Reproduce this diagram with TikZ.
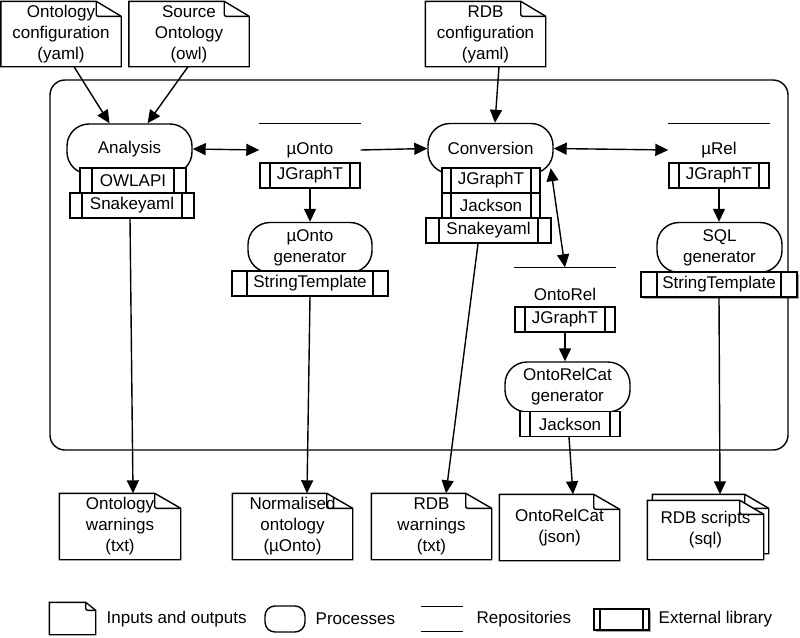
\documentclass[tikz,border=0pt]{standalone}
\usepackage{fontspec}
\setmainfont{Liberation Sans}
\usetikzlibrary{arrows.meta,shadows,backgrounds}
\newcommand\docout[3]{%
  \filldraw[ln, fill=white] (#1.north west) -- ([xshift=-#2]#1.north east) -- ([yshift=-#3]#1.north east) -- (#1.south east) -- (#1.south west) -- cycle;
  \draw[ln, rounded corners=2pt] ([xshift=-#2]#1.north east) |- ([yshift=-#3]#1.north east);}
\begin{document}
\begin{tikzpicture}[x=1pt,y=-1pt,
  ln/.style={line width=1.4pt},
  txt/.style={font=\fontsize{17}{21}\selectfont, align=center, inner sep=0pt, ln},
  doc/.style={txt, minimum width=119pt, minimum height=64pt},
  proc/.style={txt, draw, rounded corners=22pt, minimum width=125pt, minimum height=50pt},
  repo/.style={txt, minimum width=100pt, minimum height=52pt},
  lib/.style args={#1/#2}{txt, draw, fill=white, minimum width=#1, minimum height=25pt,
    path picture={\draw[ln] ([xshift=#2]path picture bounding box.north west) -- ([xshift=#2]path picture bounding box.south west);
                  \draw[ln] ([xshift=-#2]path picture bounding box.north east) -- ([xshift=-#2]path picture bounding box.south east);}},
  libshadow/.style={drop shadow={shadow xshift=1.5pt, shadow yshift=-1.5pt, opacity=0.35, fill=black}},
  arr/.style={ln, -{Triangle[length=13pt,width=12pt]}},
  darr/.style={ln, {Triangle[length=13pt,width=12pt]}-{Triangle[length=13pt,width=12pt]}}]
\useasboundingbox (0,0) rectangle (800,637);

% container
\node[draw, ln, rounded corners=15pt, minimum width=738pt, minimum height=370pt, inner sep=0pt] (frame) at (419,265) {};

% top documents
\node[doc] (cfg) at (61,34) {Ontology\\configuration\\(yaml)};
\node[doc] (src) at (189,34) {Source\\Ontology\\(owl)};
\node[doc] (rdbcfg) at (485.5,34) {RDB\\configuration\\(yaml)};

% analysis
\node[proc] (ana) at (129.5,149) {Analysis};
\node[lib=106pt/12pt] (owlapi) at (133,180.5) {OWLAPI};
\node[lib=124pt/12pt] (anasy) at (132,205.5) {Snakeyaml};

% muOnto
\node[repo] (onto) at (310,150) {µOnto};
\node[lib=100pt/10pt] (ontoj) at (310,175.5) {JGraphT};
\node[proc, minimum width=124pt] (ontogen) at (310,247.5) {µOnto\\generator};
\node[lib=156pt/15pt] (ontost) at (310,283.5) {StringTemplate};

% conversion
\node[proc] (conv) at (490.5,148.5) {Conversion};
\node[lib=98pt/9pt] (convj) at (491,180.5) {JGraphT};
\node[lib=98pt/9pt] (convjk) at (491,205.5) {Jackson};
\node[lib=125pt/13pt] (convsy) at (488.5,230.5) {Snakeyaml};

% muRel
\node[repo] (urel) at (719,150) {µRel};
\node[lib=100pt/10pt] (urelj) at (719,175.5) {JGraphT};
\node[proc] (sqlgen) at (719.5,247.5) {SQL\\generator};
\node[lib=156pt/16pt, libshadow] (sqlst) at (719,284.5) {StringTemplate};

% OntoRel
\node[repo] (ontorel) at (565,294) {OntoRel};
\node[lib=100pt/10pt] (ontorelj) at (565,319.5) {JGraphT};
\node[proc] (orcgen) at (567.5,387) {OntoRelCat\\generator};
\node[lib=100pt/10pt] (orcj) at (570,424) {Jackson};

% bottom documents
\node[doc, minimum width=120pt, minimum height=65pt] (ow) at (120,526.5) {Ontology\\warnings\\(txt)};
\node[doc, minimum height=65pt] (no) at (292.5,526.5) {Normalised\\ontology\\(µOnto)};
\node[doc, minimum height=65pt] (rw) at (431.5,526.5) {RDB\\warnings\\(txt)};
\node[doc, minimum height=65pt] (orc) at (559.5,527.5) {OntoRelCat\\(json)};
\node[doc, minimum width=115pt, minimum height=58pt] (rdbsb) at (710.5,524) {};
\node[doc, minimum width=115pt, minimum height=58pt] (rdbs) at (705.5,530) {RDB scripts\\(sql)};

% legend
\node[doc, minimum width=45pt, minimum height=31pt] (lgdoc) at (72.5,618.5) {};
\node[txt, anchor=west] (lgdoct) at (106,619) {Inputs and outputs};
\node[txt, draw, rounded corners=10pt, minimum width=40pt, minimum height=26pt] (lgproc) at (285,619) {};
\node[txt, anchor=west] (lgproct) at (315,619) {Processes};
\node[txt, minimum width=40pt, minimum height=24pt] (lgrepo) at (442,619) {};
\node[txt, anchor=west] (lgrepot) at (476,619) {Repositories};
\node[lib=55pt/6pt, minimum height=21pt, libshadow] (lglib) at (621.5,619.5) {};
\node[txt, anchor=west] (lglibt) at (658,619) {External library};

\begin{pgfonlayer}{background}
\docout{cfg}{25pt}{15pt}
\docout{src}{25pt}{15pt}
\docout{rdbcfg}{25pt}{15pt}
\docout{ow}{26pt}{15pt}
\docout{no}{26pt}{15pt}
\docout{rw}{26pt}{15pt}
\docout{orc}{26pt}{15pt}
\docout{rdbsb}{24pt}{14pt}
\docout{rdbs}{24pt}{14pt}
\docout{lgdoc}{10pt}{8pt}
\end{pgfonlayer}

% repository lines
\draw[ln] (onto.north west) -- (onto.north east);
\draw[ln] (urel.north west) -- (urel.north east);
\draw[ln] (ontorel.north west) -- (ontorel.north east);
\draw[ln] (lgrepo.north west) -- (lgrepo.north east);
\draw[ln] (lgrepo.south west) -- (lgrepo.south east);

% connectors
\draw[arr] ([xshift=13pt]cfg.south) -- ([xshift=-20pt]ana.north);
\draw[arr] ([xshift=-1pt]src.south) -- ([xshift=18pt]ana.north);
\draw[arr] ([xshift=13.5pt]rdbcfg.south) -- ([xshift=4.5pt]conv.north);
\draw[darr] (ana.east) -- (onto.west);
\draw[arr] (onto.east) -- (conv.west);
\draw[darr] (conv.east) -- (urel.west);
\draw[arr] (ontoj.south) -- (ontogen.north);
\draw[arr] (urelj.south) -- (urelj.south |- sqlgen.north);
\draw[darr] ([xshift=-3pt,yshift=6pt]conv.south east) -- (ontorel.north);
\draw[arr] (ontorelj.south) -- (ontorelj.south |- orcgen.north);
\draw[arr] ([xshift=-2pt]anasy.south) -- ([xshift=13pt]ow.north);
\draw[arr] (ontost.south) -- ([xshift=14.5pt]no.north);
\draw[arr] ([xshift=-10.5pt]convsy.south) -- ([xshift=14.5pt]rw.north);
\draw[arr] ([xshift=-1pt]orcj.south) -- ([xshift=13.5pt]orc.north);
\draw[arr] (sqlst.south) -- ([xshift=9.5pt]rdbsb.north);
\end{tikzpicture}
\end{document}
